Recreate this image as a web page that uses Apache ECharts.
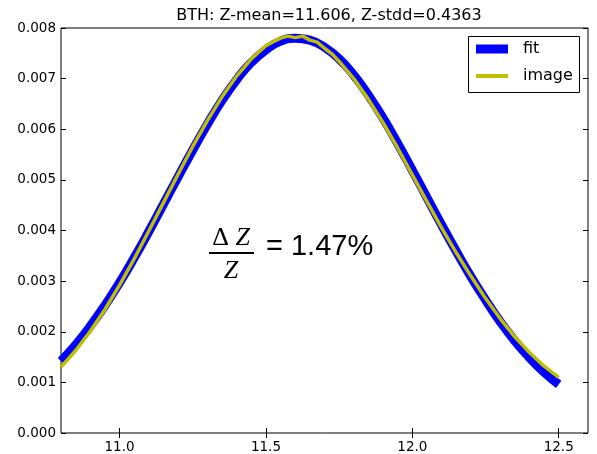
<!DOCTYPE html>
<html>
<head>
<meta charset="utf-8">
<script src="https://cdn.jsdelivr.net/npm/echarts@6/dist/echarts.min.js"></script>
<style>html,body{margin:0;padding:0;background:#fff}#c{width:597px;height:454px}</style>
</head>
<body>
<div id="c"></div>
<script>
// ---- data ----
var titleText = 'BTH: Z-mean=11.606, Z-stdd=0.4363';
var xTicks = [11.0, 11.5, 12.0, 12.5];
var yTicks = [0, 0.001, 0.002, 0.003, 0.004, 0.005, 0.006, 0.007, 0.008];
var fitX = [10.80,10.85,10.90,10.95,11.00,11.05,11.10,11.15,11.20,11.25,11.30,11.35,11.40,11.45,11.50,11.55,11.60,11.65,11.70,11.75,11.80,11.85,11.90,11.95,12.00,12.05,12.10,12.15,12.20,12.25,12.30,12.35,12.40,12.45,12.50];
var fitY = [0.00142,0.00174,0.00211,0.00252,0.00297,0.00346,0.00398,0.00452,0.00506,0.00559,0.00610,0.00657,0.00698,0.00732,0.00757,0.00774,0.00780,0.00776,0.00762,0.00739,0.00707,0.00667,0.00622,0.00572,0.00519,0.00465,0.00411,0.00359,0.00309,0.00263,0.00220,0.00182,0.00149,0.00120,0.00096];
var imgX = [10.80,10.85,10.90,10.95,11.00,11.05,11.10,11.15,11.20,11.25,11.30,11.35,11.40,11.45,11.475,11.50,11.525,11.55,11.575,11.60,11.625,11.65,11.675,11.70,11.725,11.75,11.80,11.85,11.90,11.95,12.00,12.05,12.10,12.15,12.20,12.25,12.30,12.35,12.40,12.45,12.50];
var imgY = [0.00130,0.00163,0.00201,0.00244,0.00292,0.00344,0.00399,0.00455,0.00511,0.00566,0.00617,0.00664,0.00705,0.00739,0.00752,0.00765,0.00773,0.00780,0.00784,0.00781,0.00784,0.00776,0.00772,0.00760,0.00749,0.00734,0.00700,0.00659,0.00613,0.00563,0.00510,0.00457,0.00405,0.00356,0.00310,0.00266,0.00226,0.00190,0.00159,0.00132,0.00110];
var seriesNames = ['fit', 'image'];
var annotation = '= 1.47%';

function pairs(xs, ys){ return xs.map(function(x,i){ return [x, ys[i]]; }); }

var chart = echarts.init(document.getElementById('c'), null, {renderer:'canvas'});
var F = 'DejaVu Sans';
var tickCommon = {show:true, inside:true, length:5, lineStyle:{color:'#000', width:1}};
chart.setOption({
  animation:false,
  backgroundColor:'#fff',
  title:{text:titleText, left:324, textAlign:'center', top:3,
    textStyle:{fontFamily:F, fontSize:16, fontWeight:'normal', color:'#000'}},
  grid:{left:61, right:9, top:28, bottom:21, show:true, borderColor:'#000', borderWidth:1, backgroundColor:'transparent'},
  xAxis:[
    {type:'value', min:10.8, max:12.6, position:'bottom',
     axisLine:{show:false}, splitLine:{show:false},
     axisTick:Object.assign({customValues:xTicks}, tickCommon),
     axisLabel:{customValues:xTicks, fontFamily:F, fontSize:13.5, color:'#000', margin:7,
       formatter:function(v){return v.toFixed(1);}}},
    {type:'value', min:10.8, max:12.6, position:'top',
     axisLine:{show:false}, splitLine:{show:false},
     axisTick:Object.assign({customValues:xTicks}, tickCommon),
     axisLabel:{show:false}}
  ],
  yAxis:[
    {type:'value', min:0, max:0.008, interval:0.001, position:'left',
     axisLine:{show:false}, splitLine:{show:false},
     axisTick:Object.assign({customValues:yTicks}, tickCommon),
     axisLabel:{customValues:yTicks, fontFamily:F, fontSize:13.5, color:'#000', margin:5,
       formatter:function(v){return v.toFixed(3);}}},
    {type:'value', min:0, max:0.008, interval:0.001, position:'right',
     axisLine:{show:false}, splitLine:{show:false},
     axisTick:Object.assign({customValues:yTicks}, tickCommon),
     axisLabel:{show:false}}
  ],
  legend:[
    {data:[seriesNames[0]], left:476, top:41, padding:0, icon:'rect', itemWidth:32, itemHeight:9,
     textStyle:{fontFamily:F, fontSize:16, color:'#000', padding:[0,0,0,10]}},
    {data:[seriesNames[1]], left:476, top:68, padding:0, icon:'rect', itemWidth:32, itemHeight:4,
     textStyle:{fontFamily:F, fontSize:16, color:'#000', padding:[0,0,0,10]}}
  ],
  graphic:[
    {type:'rect', shape:{x:468.5, y:36.5, width:111, height:56}, style:{fill:'#fff', stroke:'#000', lineWidth:1}, z:-1, zlevel:0},
    {type:'text', x:231, y:238, style:{text:'{u|Δ }{i|Z}', fill:'#000', align:'center', verticalAlign:'middle',
      rich:{u:{font:'26px "Liberation Serif"', fill:'#000'}, i:{font:'italic 26px "Liberation Serif"', fill:'#000'}}}},
    {type:'line', shape:{x1:209, y1:253, x2:254, y2:253}, style:{stroke:'#000', lineWidth:1.8}},
    {type:'text', x:231, y:271, style:{text:'Z', font:'italic 26px "Liberation Serif"', fill:'#000', align:'center', verticalAlign:'middle'}},
    {type:'text', x:266, y:247, style:{text:annotation, font:'29px "Liberation Sans"', fill:'#000', align:'left', verticalAlign:'middle'}}
  ],
  series:[
    {name:seriesNames[0], type:'line', data:pairs(fitX, fitY), smooth:true, showSymbol:false, symbol:'none',
     lineStyle:{color:'#0000ff', width:9}, itemStyle:{color:'#0000ff'}, z:2},
    {name:seriesNames[1], type:'line', data:pairs(imgX, imgY), smooth:false, showSymbol:false, symbol:'none',
     lineStyle:{color:'#bfbf00', width:3.5}, itemStyle:{color:'#bfbf00'}, z:3}
  ]
});
</script>
</body>
</html>
